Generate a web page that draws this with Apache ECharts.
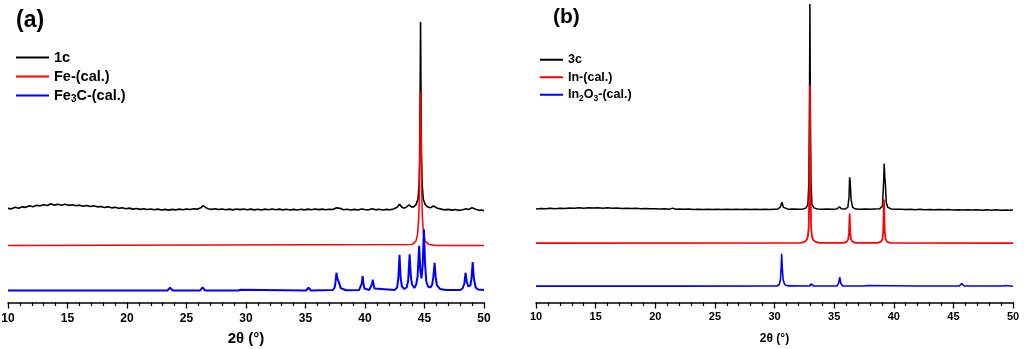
<!DOCTYPE html>
<html><head><meta charset="utf-8">
<script src="https://cdn.jsdelivr.net/npm/echarts@6/dist/echarts.min.js"></script>
<style>html,body{margin:0;padding:0;background:#fff}#c{width:1024px;height:349px}</style>
</head><body><div id="c"></div>
<script>
// Panel (a): x = 2θ (deg), y = intensity (arbitrary units, offset traces)
const ticksX = [10, 15, 20, 25, 30, 35, 40, 45, 50];
const seriesNamesA = ['1c', 'Fe-(cal.)', 'Fe3C-(cal.)'];
const seriesNamesB = ['3c', 'In-(cal.)', 'In2O3-(cal.)'];

const exp1c = [[10,94],[10.3,93.5],[10.6,95],[10.9,94],[11.2,95.5],[11.5,95],[11.8,96.5],[12.1,95.5],[12.4,97],[12.7,96.5],[13.0,97.5],[13.3,96.8],[13.6,98.5],[13.9,97.2],[14.2,98],[14.5,97],[14.8,98.2],[15.1,97],[15.4,97.6],[15.7,96.5],[16.0,97.2],[16.3,96],[16.6,96.8],[16.9,95.8],[17.2,96.5],[17.5,95.5],[17.8,95.8],[18.1,94.8],[18.4,95.5],[18.7,94.5],[19.0,95],[19.3,94],[19.6,94.6],[19.9,93.6],[20.2,94.2],[20.5,93.2],[20.8,93.8],[21.1,93],[21.4,93.6],[21.7,92.8],[22.0,93.4],[22.3,92.6],[22.6,93.2],[22.9,92.4],[23.2,93],[23.5,92.2],[23.8,93],[24.1,92.5],[24.4,93.2],[24.7,92.6],[25.0,93.4],[25.3,92.8],[25.6,93.6],[25.9,93.2],[26.2,94.5],[26.4,96.8],[26.6,95],[26.8,93.6],[27.1,93],[27.4,93.6],[27.7,92.8],[28.0,93.4],[28.3,92.6],[28.6,93.2],[28.9,92.5],[29.2,93.3],[29.5,92.7],[29.8,93.3],[30.1,92.6],[30.4,93.2],[30.7,92.5],[31.0,93.1],[31.3,92.4],[31.6,93.2],[31.9,92.6],[32.2,93.3],[32.5,92.6],[32.8,93.2],[33.1,92.5],[33.4,93.1],[33.7,92.4],[34.0,93],[34.3,92.3],[34.6,93.1],[34.9,92.5],[35.2,93.2],[35.5,92.6],[35.8,93.3],[36.1,92.7],[36.4,93.2],[36.7,92.6],[37.0,93.1],[37.3,92.8],[37.6,94.5],[37.75,96.2],[37.9,94],[38.2,92.6],[38.5,93.1],[38.8,92.4],[39.1,93],[39.4,92.3],[39.7,93.4],[39.85,94.2],[40.0,92.8],[40.3,92.5],[40.6,93.5],[40.9,92.5],[41.2,93.1],[41.5,92.4],[41.8,93],[42.1,92.6],[42.4,93.4],[42.7,95],[42.9,98],[43.1,95.2],[43.3,94.2],[43.5,95.5],[43.7,97.4],[43.9,95.5],[44.1,95.5],[44.3,98],[44.45,103],[44.55,118],[44.6,150],[44.64,220],[44.67,280],[44.7,220],[44.74,150],[44.8,118],[44.9,103],[45.05,98],[45.25,95.5],[45.5,94.5],[45.75,96.3],[45.9,95.5],[46.1,94],[46.4,93.2],[46.7,92.5],[47.0,93],[47.3,92.2],[47.6,92.8],[47.9,92],[48.2,92.6],[48.5,93.6],[48.7,92.8],[49.0,94.5],[49.1,95],[49.3,93.2],[49.6,92],[49.8,92.3],[50,91.5]];

const feCal = [[10,57],[43.97,58],[44.27,61],[44.42,68],[44.52,85],[44.57,110],[44.62,165],[44.65,200],[44.67,210],[44.69,200],[44.72,165],[44.77,110],[44.82,85],[44.92,68],[45.07,61],[45.37,58],[46.0,57],[50,57]];

const fe3cCal = [[10,12],[23.4,12],[23.55,13],[23.62,14.7],[23.7,13],[23.85,12],[26.15,12],[26.28,13.2],[26.35,15],[26.43,13.2],[26.55,12],[29.35,12],[29.45,12.8],[29.5,13.5],[29.56,12.8],[29.65,12],[35.05,12],[35.18,13],[35.25,14.7],[35.32,13],[35.45,12],[37.3,12.5],[37.45,15],[37.53,21],[37.6,29.7],[37.68,24],[37.76,25.3],[37.84,19],[37.95,14.5],[38.1,12.6],[38.4,12.2],[39.5,12.4],[39.65,14],[39.73,19],[39.8,26.3],[39.87,19],[39.95,14],[40.1,12.6],[40.35,12.5],[40.5,14],[40.58,18],[40.65,22.7],[40.72,18],[40.8,14],[40.95,12.6],[42.5,12.6],[42.7,15],[42.8,24],[42.9,47.7],[43.0,24],[43.1,16],[43.3,13.5],[43.5,15],[43.63,22],[43.75,48],[43.85,26],[43.95,18],[44.15,14.5],[44.3,18],[44.42,26],[44.55,56.7],[44.65,32],[44.75,24],[44.85,38],[44.95,73],[45.05,38],[45.15,21],[45.3,16],[45.5,15],[45.65,18],[45.75,26],[45.85,39.7],[45.95,24],[46.05,17],[46.3,13.5],[46.8,12.4],[48.0,12.5],[48.2,14],[48.35,19],[48.45,29.7],[48.55,21],[48.68,16],[48.85,17],[48.95,24],[49.05,40.3],[49.15,24],[49.3,15],[49.5,13],[50,12.4]];

// Panel (b)
const exp3c = [[10,93.3],[10.4,93.8],[10.8,93.5],[11.2,94],[11.6,93.7],[12,94.2],[12.4,93.9],[12.8,94.4],[13.2,94.1],[13.6,94.6],[14,94.2],[14.4,94.6],[14.8,94.3],[15.2,94.6],[15.6,94.2],[16,94.5],[16.4,94.1],[16.8,94.3],[17.2,93.9],[17.6,94.2],[18,93.8],[18.4,94],[18.8,93.6],[19.2,93.9],[19.6,93.5],[20,93.7],[20.4,93.3],[20.8,93.6],[21.2,93.2],[21.45,94.2],[21.7,93.1],[22,93.4],[22.4,93],[22.8,93.3],[23.2,92.9],[23.6,93.2],[24,92.8],[24.4,93.1],[24.8,92.8],[25.2,93.2],[25.6,92.8],[26,93.1],[26.4,92.8],[26.8,93.2],[27.2,92.8],[27.6,93.1],[28,92.8],[28.4,93.2],[28.8,92.8],[29.2,93.1],[29.6,92.9],[30,93.2],[30.3,93.3],[30.5,95.5],[30.62,100],[30.75,95],[30.9,93.3],[31.2,93],[31.6,93.3],[32,93],[32.4,93.4],[32.65,94.5],[32.8,98],[32.88,120],[32.93,190],[32.97,298],[33.01,190],[33.06,120],[33.14,98],[33.3,94.5],[33.6,93.4],[34,93.1],[34.4,93.3],[34.8,93],[35.2,93.3],[35.45,95.5],[35.6,93.5],[35.9,93.3],[36.15,95],[36.25,105],[36.3,125],[36.35,120],[36.42,103],[36.55,95],[36.8,93.3],[37.2,93],[37.6,93.3],[38,93],[38.4,93.3],[38.8,93.5],[39.05,96],[39.15,120],[39.2,138.7],[39.25,125],[39.3,118],[39.37,100],[39.5,95],[39.8,93.3],[40.2,93],[40.6,93.2],[41,92.8],[41.4,93.1],[41.8,92.7],[42.2,93],[42.6,92.6],[43,92.9],[43.4,92.5],[43.8,92.8],[44.2,92.5],[44.6,92.8],[45,92.4],[45.4,92.7],[45.8,92.4],[46.2,92.7],[46.6,92.3],[47,92.6],[47.4,92.2],[47.8,92.5],[48.2,92.2],[48.6,92.5],[49,92.1],[49.4,92.4],[49.8,92],[50,92.3]];

const inCal = [[10,59.3],[32.2,59.5],[32.5,60.5],[32.7,62.5],[32.8,66],[32.87,75],[32.92,110],[32.95,170],[32.97,217],[32.99,170],[33.02,110],[33.07,75],[33.14,66],[33.24,62.5],[33.44,60.5],[33.8,59.5],[35.8,59.5],[36.05,60.5],[36.18,63],[36.25,70],[36.3,88.7],[36.35,70],[36.42,63],[36.55,60.5],[36.8,59.5],[38.6,59.5],[38.9,60.5],[39.05,63],[39.12,72],[39.18,102.7],[39.24,72],[39.32,63],[39.45,60.5],[39.7,59.5],[50,59.3]];

const in2o3Cal = [[10,16.3],[21.3,16.3],[21.45,17.2],[21.6,16.3],[30.2,16.5],[30.4,18],[30.5,23],[30.56,35],[30.6,48.7],[30.65,35],[30.72,23],[30.85,18],[31.1,16.6],[32.95,16.5],[33.05,18.5],[33.1,19.7],[33.17,17.5],[33.3,16.5],[35.25,16.6],[35.38,19.5],[35.47,25.3],[35.55,19.5],[35.7,16.6],[37.55,16.4],[37.65,17.5],[37.7,18],[37.78,17],[37.9,16.4],[41.8,16.4],[41.85,16.9],[41.9,16.4],[45.5,16.4],[45.62,18],[45.7,19],[45.78,18],[45.9,16.4],[49.15,16.4],[49.28,17.7],[49.33,18],[49.4,17],[49.55,16.4],[50,16.3]];

const FONT = 'Liberation Sans, Arial, sans-serif';
function xAx(gi, labSize, labMargin, nameSize, nameGap) {
  return {
    type: 'value', gridIndex: gi, min: ticksX[0], max: ticksX[ticksX.length-1], interval: 5,
    name: '2θ (°)', nameLocation: 'middle', nameGap: nameGap,
    nameTextStyle: {fontFamily: FONT, fontSize: nameSize, fontWeight: 'bold', color: '#000'},
    axisLine: {show: true, onZero: false, lineStyle: {color: '#000', width: 1.5}},
    axisTick: {show: true, inside: false, length: 6, lineStyle: {color: '#000', width: 1.3}},
    minorTick: {show: true, splitNumber: 5, length: 3.5, lineStyle: {color: '#000', width: 1.2}},
    axisLabel: {fontFamily: FONT, fontSize: labSize, fontWeight: 'bold', color: '#000', margin: labMargin,
      formatter: v => ticksX.includes(v) ? String(v) : ''},
    splitLine: {show: false}
  };
}
function yAx(gi) { return {type: 'value', gridIndex: gi, min: 0, max: 300, show: false}; }
function ser(name, data, color, w, gi) {
  return {name, type: 'line', data, xAxisIndex: gi, yAxisIndex: gi, showSymbol: false, symbol: 'none',
    color, lineStyle: {color, width: w}, animation: false, silent: true};
}
const subFmt = n => n === 'Fe3C-(cal.)' ? 'Fe{s|3}C-(cal.)' : n === 'In2O3-(cal.)' ? 'In{s|2}O{s|3}-(cal.)' : n;

const chart = echarts.init(document.getElementById('c'), null, {renderer: 'canvas'});
chart.setOption({
  backgroundColor: '#fff',
  animation: false,
  title: [
    {text: '(a)', left: 16, top: 9, padding: 0, textStyle: {fontFamily: FONT, fontSize: 23, fontWeight: 'bold', color: '#000'}},
    {text: '(b)', left: 553, top: 7, padding: 0, textStyle: {fontFamily: FONT, fontSize: 21, fontWeight: 'bold', color: '#000'}}
  ],
  grid: [
    {left: 8, right: 540, top: 2, bottom: 46.5, outerBoundsMode: 'none', containLabel: false},
    {left: 536, right: 11, top: 2, bottom: 46.5, outerBoundsMode: 'none', containLabel: false}
  ],
  xAxis: [xAx(0, 12, 10, 15, 29), xAx(1, 11, 9, 12, 30)],
  yAxis: [yAx(0), yAx(1)],
  legend: [
    {data: seriesNamesA, orient: 'vertical', left: 16, top: 50, icon: 'rect', itemWidth: 33, itemHeight: 2,
      itemGap: 4, itemTextGap: 4, selectedMode: false, padding: 0, formatter: subFmt,
      textStyle: {fontFamily: FONT, fontSize: 14.5, fontWeight: 'bold', color: '#000', lineHeight: 15,
        rich: {s: {fontFamily: FONT, fontSize: 10, fontWeight: 'bold', color: '#000', padding: [7, 0, 0, 0]}}}},
    {data: seriesNamesB, orient: 'vertical', left: 540, top: 53, icon: 'rect', itemWidth: 23, itemHeight: 2,
      itemGap: 4, itemTextGap: 4, selectedMode: false, padding: 0, formatter: subFmt,
      textStyle: {fontFamily: FONT, fontSize: 12.5, fontWeight: 'bold', color: '#000', lineHeight: 13.5,
        rich: {s: {fontFamily: FONT, fontSize: 8.5, fontWeight: 'bold', color: '#000', padding: [7, 0, 0, 0]}}}}
  ],
  series: [
    ser('1c', exp1c, '#000000', 1.6, 0),
    ser('Fe-(cal.)', feCal, '#ff0000', 1.5, 0),
    ser('Fe3C-(cal.)', fe3cCal, '#0000ff', 2, 0),
    ser('3c', exp3c, '#000000', 1.5, 1),
    ser('In-(cal.)', inCal, '#ff0000', 1.8, 1),
    ser('In2O3-(cal.)', in2o3Cal, '#0000ff', 1.6, 1)
  ]
});
</script></body></html>
